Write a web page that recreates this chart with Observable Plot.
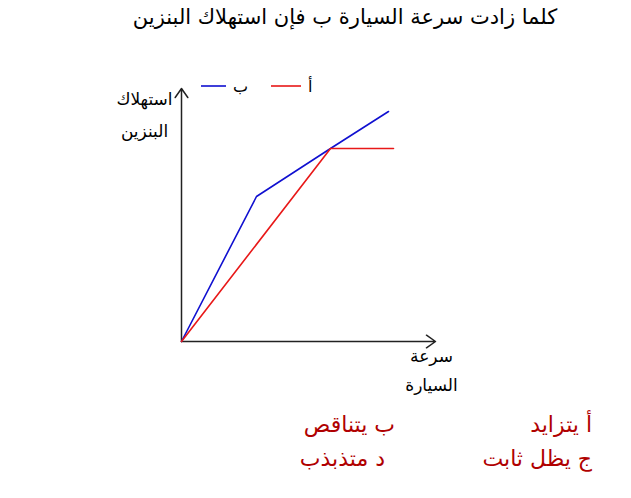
<!DOCTYPE html>
<html><head><meta charset="utf-8">
<script src="https://cdn.jsdelivr.net/npm/d3@7"></script>
<script src="https://cdn.jsdelivr.net/npm/@observablehq/plot@0.6"></script>
<style>
body{margin:0;background:#fff;}
#wrap{position:relative;width:631px;height:498px;overflow:hidden;font-family:"DejaVu Sans",sans-serif;}
#title{position:absolute;top:5px;left:0;width:690px;text-align:center;font-size:21px;color:#000;direction:rtl;}
#chart{position:absolute;top:0;left:0;}
#legend{position:absolute;top:76px;left:200px;font-size:16px;direction:ltr;}
.ans{position:absolute;font-size:22px;color:#b00000;direction:rtl;white-space:nowrap;}
</style></head>
<body><div id="wrap">
<div id="title"></div>
<div id="chart"></div>
<div id="legend"></div>
<div id="answers"></div>
</div>
<script>
const titleText = "كلما زادت سرعة السيارة ب فإن استهلاك البنزين";
const yLabel = "استهلاك\nالبنزين";
const xLabel = "سرعة\nالسيارة";
const seriesNames = ["ب", "أ"];
const seriesColors = ["#1010d0", "#e81818"];
// series values (arbitrary units)
const speedB = [0, 75, 149, 207];
const fuelB  = [0, 145, 193, 230];
const speedA = [0, 149, 212];
const fuelA  = [0, 193, 193];
const xMax = 254, yMax = 253;
const answers = [
  {text: "أ  يتزايد", right: 39, top: 412},
  {text: "ب  يتناقص", right: 236, top: 412},
  {text: "ج  يظل ثابت", right: 39, top: 446},
  {text: "د   متذبذب", right: 246, top: 446}
];

document.getElementById("title").textContent = titleText;

const data = [
  ...speedB.map((s, i) => ({series: seriesNames[0], speed: s, fuel: fuelB[i]})),
  ...speedA.map((s, i) => ({series: seriesNames[1], speed: s, fuel: fuelA[i]}))
];
const axes = [
  {x1: 0, y1: 0, x2: xMax, y2: 0},
  {x1: 0, y1: 0, x2: 0, y2: yMax}
];

const H = 420;
const chart = Plot.plot({
  width: 631, height: H,
  marginLeft: 181, marginRight: 631 - 435, marginTop: 88, marginBottom: H - 341,
  x: {domain: [0, xMax], axis: null},
  y: {domain: [0, yMax], axis: null},
  color: {domain: seriesNames, range: seriesColors},
  style: {fontFamily: "'DejaVu Sans', sans-serif", background: "transparent"},
  marks: [
    Plot.arrow(axes, {x1: "x1", y1: "y1", x2: "x2", y2: "y2", stroke: "#222", strokeWidth: 1.5, headLength: 11, headAngle: 70}),
    Plot.line(data, {x: "speed", y: "fuel", z: "series", stroke: "series", strokeWidth: 1.6}),
    Plot.text([yLabel], {text: d => d, frameAnchor: "top-left", dx: -37, dy: 22, fontSize: 17, lineHeight: 1.9, textAnchor: "middle", lineAnchor: "middle", fill: "#000"}),
    Plot.text([xLabel], {text: d => d, frameAnchor: "bottom-right", dx: -4, dy: 26, fontSize: 17, lineHeight: 1.7, textAnchor: "middle", lineAnchor: "middle", fill: "#000"})
  ]
});
document.getElementById("chart").appendChild(chart);

// legend
const lg = document.getElementById("legend");
lg.innerHTML = seriesNames.map((n, i) =>
  `<span style="display:inline-flex;align-items:center;margin-right:${i === 0 ? 22 : 0}px">` +
  `<svg width="${i === 0 ? 27 : 32}" height="10"><line x1="1" y1="5" x2="${i === 0 ? 26 : 31}" y2="5" stroke="${seriesColors[i]}" stroke-width="1.6"/></svg>` +
  `<span style="margin-left:6px;">${n}</span></span>`).join("");

const ansDiv = document.getElementById("answers");
answers.forEach(a => {
  const d = document.createElement("div");
  d.className = "ans";
  d.textContent = a.text;
  d.style.right = a.right + "px";
  d.style.top = a.top + "px";
  ansDiv.appendChild(d);
});
</script>
</body></html>
